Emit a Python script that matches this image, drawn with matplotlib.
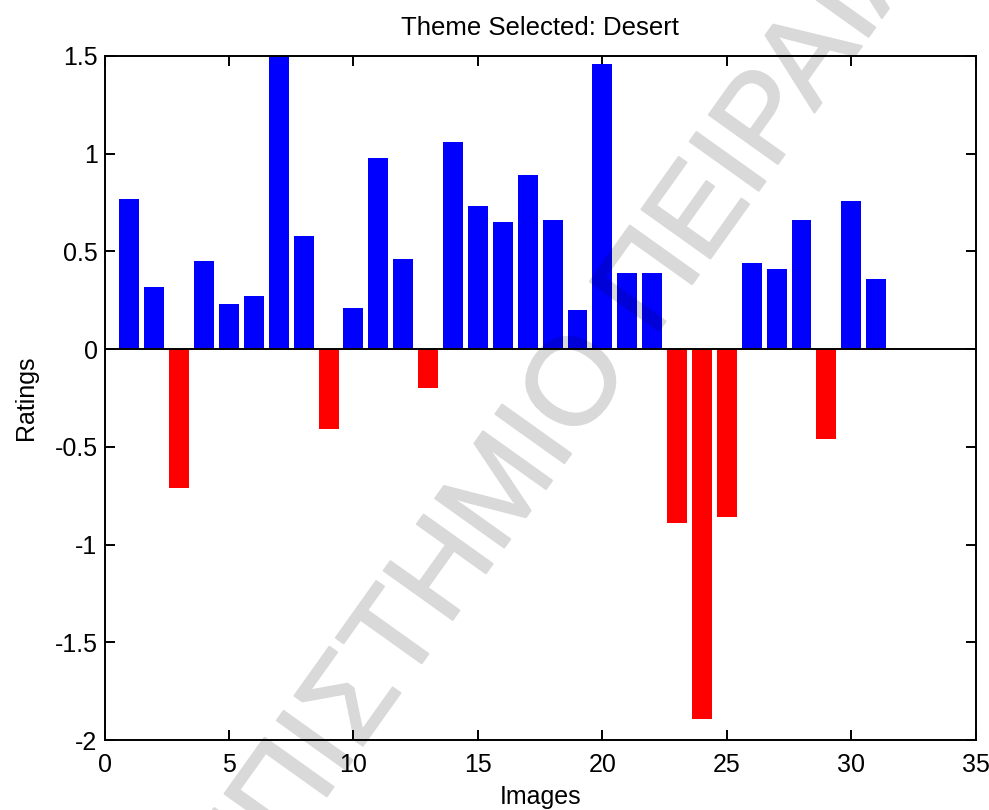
import matplotlib
matplotlib.use("Agg")
import matplotlib.pyplot as plt
import matplotlib.patheffects as pe
import numpy as np

plt.rcParams['font.family'] = ['Liberation Sans', 'DejaVu Sans']

# Mean rating per image for the selected theme
images = list(range(1, 32))
ratings = [0.77, 0.32, -0.71, 0.45, 0.23, 0.27, 1.50, 0.58, -0.41, 0.21,
           0.98, 0.46, -0.20, 1.06, 0.73, 0.65, 0.89, 0.66, 0.20, 1.46,
           0.39, 0.39, -0.89, -1.89, -0.86, 0.44, 0.41, 0.66, -0.46, 0.76,
           0.36]
theme = 'Desert'
watermark = 'ΠΑΝΕΠΙΣΤΗΜΙΟ ΠΕΙΡΑΙΑ'

x_ticks = [0, 5, 10, 15, 20, 25, 30, 35]
y_ticks = [-2, -1.5, -1, -0.5, 0, 0.5, 1, 1.5]

fig = plt.figure(figsize=(9.89, 8.10), dpi=100)
ax = fig.add_axes([0.1057, 0.0864, 0.8809, 0.8445])

vals = np.array(ratings)
colors = np.where(vals >= 0, '#0000ff', '#ff0000')
ax.bar(images, vals, width=0.8, color=colors, edgecolor='none', zorder=2)
ax.axhline(0, color='black', lw=1.4, zorder=3)

ax.set_xlim(0, 35)
ax.set_ylim(-2, 1.5)
ax.set_xticks(x_ticks)
ax.set_xticklabels([str(v) for v in x_ticks])
ax.set_yticks(y_ticks)
ax.set_yticklabels(['-2', '-1.5', '-1', '-0.5', '0', '0.5', '1', '1.5'])

ax.tick_params(direction='in', top=True, right=True, length=7.5, width=1.4,
               labelsize=18, colors='black')
ax.tick_params(axis='x', pad=9)
ax.tick_params(axis='y', pad=5)
for s in ax.spines.values():
    s.set_linewidth(1.4)
    s.set_zorder(4)

ax.set_title('Theme Selected: ' + theme, fontsize=18.5, pad=15)
ax.set_xlabel('Images', fontsize=18)
ax.set_ylabel('Ratings', fontsize=18)
ax.xaxis.set_label_coords(0.5, -0.066)
ax.yaxis.set_label_coords((38 - 104.5) / 871.2, 0.5)


def fade(img, dpi):
    # draw the watermark as one translucent layer so strokes don't stack
    img = img.copy()
    img[..., 3] *= 0.15
    return img, 0, 0


# diagonal watermark across the figure
wm = fig.text(509.5 / 989, 1 - 540 / 810, watermark, fontsize=88.5,
              color='black', rotation=54.5, rotation_mode='anchor',
              ha='center', va='baseline', zorder=10)
wm.set_path_effects([pe.Stroke(linewidth=1.6, foreground='black'), pe.Normal()])
wm.set_agg_filter(fade)

fig.savefig('out.png', dpi=100)
